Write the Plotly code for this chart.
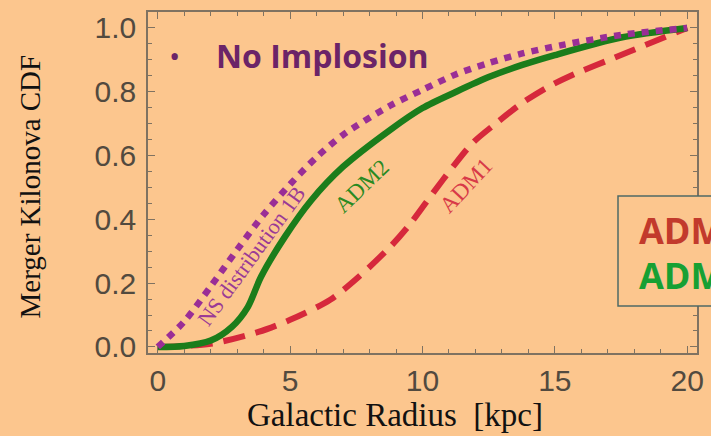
import plotly.graph_objects as go

# Galactic radius samples (kpc) and cumulative distributions
ns_r = [0, 1.0, 2.0, 3.0, 4.0, 5.0, 6.0, 7.0, 8.77, 10.0, 11.27, 12.5, 13.77, 15.3, 17.5, 20.0]
ns_cdf = [0, 0.08, 0.19, 0.305, 0.415, 0.51, 0.595, 0.665, 0.756, 0.806, 0.855, 0.89, 0.92, 0.947, 0.978, 1.0]

adm2_r = [0, 1.0, 2.0, 2.8, 3.4, 3.9, 4.8, 5.8, 7.0, 8.77, 10.0, 11.27, 12.5, 13.77, 15.0, 17.5, 20.0]
adm2_cdf = [0, 0.003, 0.02, 0.063, 0.125, 0.22, 0.345, 0.46, 0.565, 0.68, 0.749, 0.80, 0.846, 0.884, 0.915, 0.97, 1.0]

adm1_r = [0, 2.0, 3.8, 5.0, 6.5, 7.54, 8.77, 9.5, 10.4, 11.15, 11.9, 12.76, 13.77, 14.74, 15.6, 17.5, 18.7, 20.0]
adm1_cdf = [0, 0.01, 0.047, 0.085, 0.147, 0.216, 0.313, 0.382, 0.483, 0.565, 0.64, 0.70, 0.765, 0.815, 0.85, 0.915, 0.956, 1.0]

x_ticks = [0, 5, 10, 15, 20]
y_ticks = [0.0, 0.2, 0.4, 0.6, 0.8, 1.0]
y_tick_text = ["0.0", "0.2", "0.4", "0.6", "0.8", "1.0"]

BG = "#FCC68E"
FRAME = "#7f7261"
PURPLE = "#9a2e96"
GREEN = "#1b7d1b"
RED = "#d6283c"
SERIF = "Liberation Serif, Times New Roman, serif"

fig = go.Figure()

fig.add_trace(go.Scatter(
    x=adm1_r, y=adm1_cdf, mode="lines", line_shape="spline",
    line=dict(color=RED, width=6, dash="22px,11px", smoothing=0.8), hoverinfo="skip"))
fig.add_trace(go.Scatter(
    x=adm2_r, y=adm2_cdf, mode="lines", line_shape="spline",
    line=dict(color=GREEN, width=6.5, smoothing=0.8), hoverinfo="skip"))
fig.add_trace(go.Scatter(
    x=ns_r, y=ns_cdf, mode="lines", line_shape="spline",
    line=dict(color=PURPLE, width=6.5, dash="7px,7px", smoothing=0.8), hoverinfo="skip"))

axis_common = dict(
    showgrid=False, zeroline=False, showline=True, linecolor=FRAME, linewidth=1.5,
    mirror="allticks", ticks="inside", tickcolor=FRAME, tickwidth=1.2,
    tickfont=dict(family="Liberation Sans, Arial, sans-serif", size=30, color="#524a3f"),
)

fig.update_xaxes(
    range=[-0.37, 20.37], tickvals=x_ticks, ticklen=7,
    minor=dict(dtick=1, ticks="inside", ticklen=4, tickcolor=FRAME, tickwidth=1),
    **axis_common)
fig.update_yaxes(
    range=[-0.019, 1.05], tickvals=y_ticks, ticktext=y_tick_text, ticklen=7,
    ticklabelstandoff=4,
    minor=dict(dtick=0.05, ticks="inside", ticklen=4, tickcolor=FRAME, tickwidth=1),
    **axis_common)

annotations = [
    # axis titles
    dict(x=398, y=415, text="Galactic Radius \u00a0[kpc]",
         font=dict(family=SERIF, size=33, color="#111")),
    dict(x=29, y=186, text="Merger Kilonova CDF", textangle=-90,
         font=dict(family=SERIF, size=29, color="#111")),
    # heading
    dict(x=175, y=55, text="•", font=dict(size=30, color="#6b2468", family="Open Sans")),
    dict(x=215, y=55, xanchor="left", text="<b>No Implosion</b>",
         font=dict(size=32, color="#6b2468", family="Open Sans")),
    # curve labels
    dict(x=252, y=256, text="NS distribution 1B", textangle=-54,
         font=dict(size=22, color="#9a3a96", family=SERIF)),
    dict(x=364, y=186, text="ADM2", textangle=-44,
         font=dict(size=23, color="#2a8a22", family=SERIF)),
    dict(x=470, y=185, text="ADM1", textangle=-47,
         font=dict(size=23, color="#d83a48", family=SERIF)),
    # boxed key on the right edge
    dict(x=643, y=230, xanchor="left", text="<b>ADM1</b>",
         font=dict(size=36, color="#c23a2c", family="Open Sans")),
    dict(x=643, y=275, xanchor="left", text="<b>ADM2</b>",
         font=dict(size=36, color="#17a033", family="Open Sans")),
]
W, H = 711, 436
L, R, T, B = 148, 7, 12, 83
pw, ph = W - L - R, H - T - B
for a in annotations:
    px, py = a.pop("x"), a.pop("y")
    a.update(xref="paper", yref="paper", x=(px - L) / pw, y=(H - B - py) / ph,
             yanchor="middle", showarrow=False)
    a.setdefault("xanchor", "center")

fig.add_shape(type="rect", xref="paper", yref="paper",
              x0=(624 - L) / pw, x1=(760 - L) / pw,
              y0=(H - B - 306) / ph, y1=(H - B - 196) / ph,
              line=dict(color="#4e6a66", width=1.5), fillcolor=BG, layer="above")

fig.update_layout(
    width=W, height=H, margin=dict(l=L, r=R, t=T, b=B),
    paper_bgcolor=BG, plot_bgcolor=BG, showlegend=False,
    annotations=annotations,
)

fig.write_html("out.html")
